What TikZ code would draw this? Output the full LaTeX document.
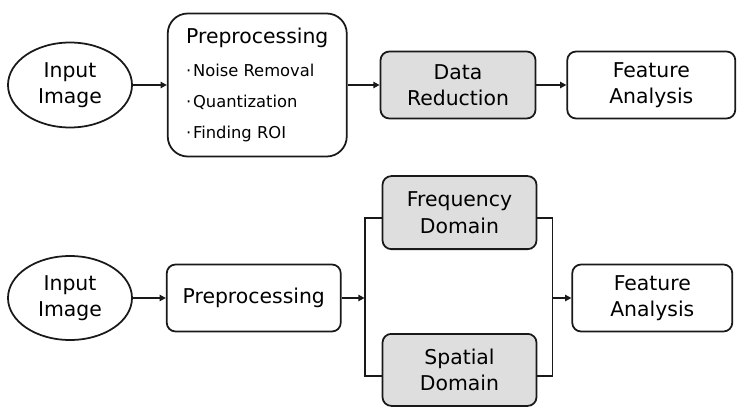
\documentclass[tikz,border=0pt]{standalone}
\usepackage{fontspec}
\setmainfont{DejaVu Sans}
\usetikzlibrary{shapes.geometric, arrows.meta, positioning, calc}
\newcommand{\blockfont}{\fontsize{11.6}{15.1}\selectfont}
\newcommand{\itemfont}{\fontsize{9.3}{11}\selectfont}
\newcommand{\itm}[1]{{\itemfont ·\kern1pt #1}}

\begin{document}
\begin{tikzpicture}[
  node distance=0.66cm,
  every node/.style={font=\blockfont},
  source/.style={ellipse, draw=black!90, line width=1pt, fill=white,
    minimum width=2.48cm, minimum height=1.7cm, align=center, inner sep=0pt},
  stage/.style={rectangle, rounded corners=5pt, draw=black!90, line width=1pt, fill=#1,
    minimum width=3.1cm, minimum height=1.34cm, align=center, inner sep=0pt},
  stage/.default=white,
  arr/.style={-{Triangle[length=3.5pt, width=3.5pt]}, line width=1pt, black!90},
  link/.style={line width=1pt, black!90}
]
\useasboundingbox (0,0) rectangle (14.86,-8.26);

% ===== TOP: DATA REDUCTION =====
\node[source] (in1) at (1.4,-1.7) {Input\\Image};
\node[stage, right=0.68cm of in1, rounded corners=0.4cm, minimum width=3.58cm,
  minimum height=2.86cm, align=left] (pre1)
  {Preprocessing\\[3.6pt]\itm{Noise Removal}\\[2.5pt]\itm{Quantization}\\[2.5pt]\itm{Finding ROI}};
\node[stage=black!13, right=0.64cm of pre1] (red) {Data\\Reduction};
\node[stage, right=0.6cm of red, minimum width=3.36cm] (feat1) {Feature\\Analysis};
\draw[arr] (in1) -- (pre1);
\draw[arr] (pre1) -- (red);
\draw[arr] (red) -- (feat1);

% ===== BOTTOM: TWO DOMAINS =====
\node[source, minimum height=1.68cm] (in2) at (1.4,-5.96) {Input\\Image};
\node[stage, right=0.66cm of in2, minimum width=3.48cm] (pre2) {Preprocessing};
\coordinate[right=0.46cm of pre2] (jl);
\node[stage=black!13, above right=0.96cm and 0.34cm of jl, minimum width=3.08cm,
  minimum height=1.46cm] (freq) {Frequency\\Domain};
\node[stage=black!13, below right=0.7cm and 0.34cm of jl, minimum width=3.08cm,
  minimum height=1.44cm] (spat) {Spatial\\Domain};
\coordinate[right=0.3cm of freq.east] (jrt);
\coordinate (jr) at (jrt |- jl);
\node[stage, right=0.38cm of jr, minimum width=3.2cm] (feat2) {Feature\\Analysis};
\draw[arr] (in2) -- (pre2);
\draw[arr] (pre2) -- (jl);
\draw[link] ([yshift=-0.1cm]freq.west) -| (jl) |- ([yshift=-0.12cm]spat.west);
\draw[link] ([yshift=-0.1cm]freq.east) -| (jr) |- ([yshift=-0.12cm]spat.east);
\draw[arr] (jr) -- (feat2);
\end{tikzpicture}
\end{document}
